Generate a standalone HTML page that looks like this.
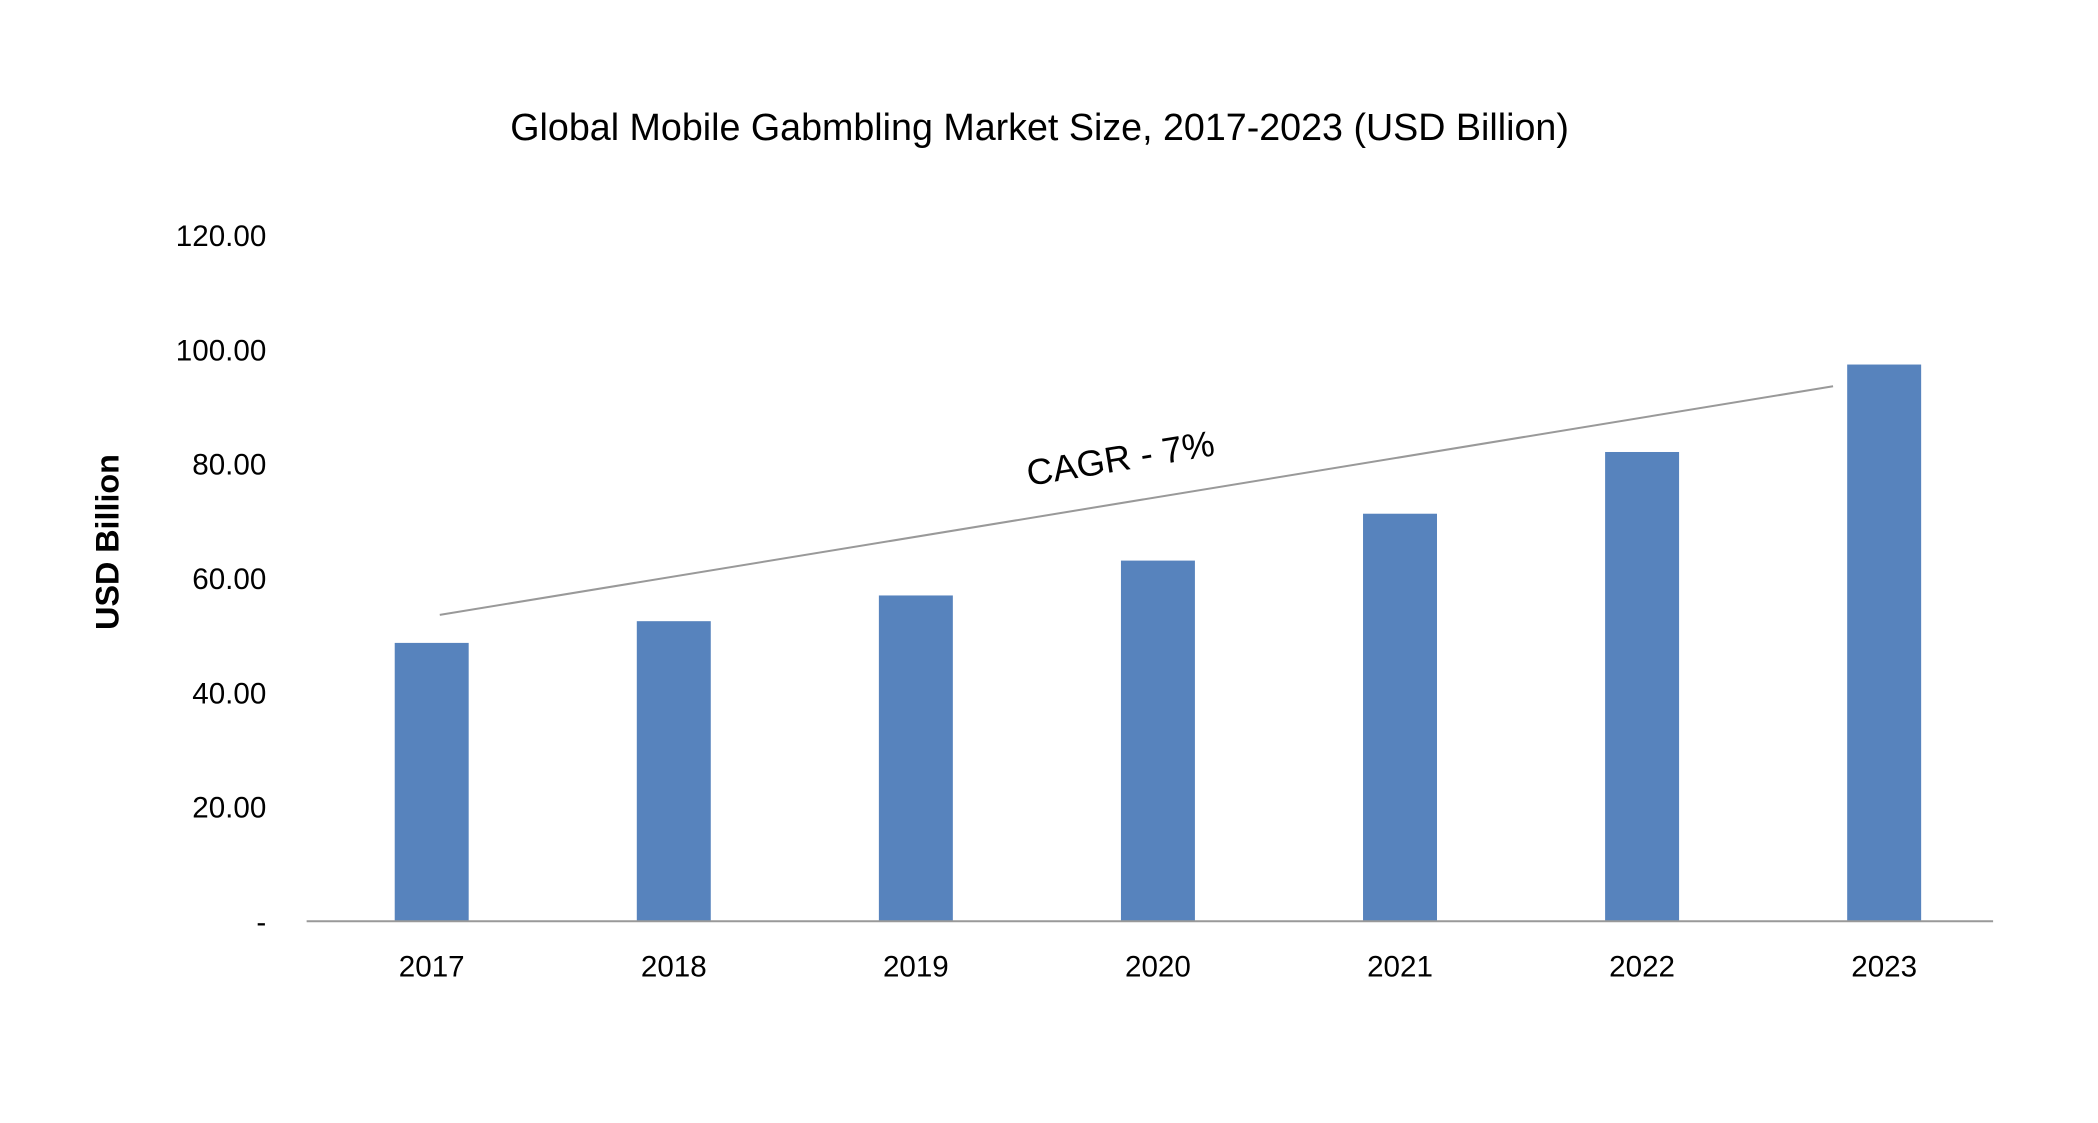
<!DOCTYPE html>
<html><head><meta charset="utf-8"><style>
html,body{margin:0;padding:0;background:#fff;}
svg{display:block;font-family:"Liberation Sans",sans-serif;}
</style></head><body>
<svg id="chart" width="2098" height="1123" viewBox="0 0 1560 835" preserveAspectRatio="none" xmlns="http://www.w3.org/2000/svg">
<rect width="1560" height="835" fill="#fff"/>
<text x="773" y="104" text-anchor="middle" font-size="28" fill="#000">Global Mobile Gabmbling Market Size, 2017-2023 (USD Billion)</text>
<text transform="translate(88,403) rotate(-90)" text-anchor="middle" font-size="24" font-weight="bold" fill="#000">USD Billion</text>
<g id="yticks"></g><g id="bars"></g><g id="xticks"></g>
<line x1="228" y1="685" x2="1482" y2="685" stroke="#999" stroke-width="1.5"/>
<g id="trend"></g>
</svg>
<script>
const categories=["2017","2018","2019","2020","2021","2022","2023"];
const values=[48.7,52.5,57.0,63.1,71.3,82.1,97.4];
const yTicks=[0,20,40,60,80,100,120];
const yTickLabels=["-","20.00","40.00","60.00","80.00","100.00","120.00"];
const trendValues=[53.6,93.6];
const cagrLabel="CAGR - 7%";
const NS="http://www.w3.org/2000/svg";
const y0=685,pxPer=4.25;
function yS(v){return y0-v*pxPer;}
function xS(i){return 321+i*180;}
function mk(t,a,p){const e=document.createElementNS(NS,t);for(const k in a)e.setAttribute(k,a[k]);p.appendChild(e);return e;}
const yt=document.getElementById('yticks');
yTicks.forEach((v,i)=>{const t=mk('text',{x:198,y:yS(v)+8,'text-anchor':'end','font-size':'22',fill:'#000'},yt);


t.textContent=yTickLabels[i];});
const bg=document.getElementById('bars'),xt=document.getElementById('xticks');
categories.forEach((c,i)=>{const b=mk('rect',{x:xS(i)-27.5,y:yS(values[i]),width:55,height:values[i]*pxPer,fill:'#5783bd'},bg);


const t=mk('text',{x:xS(i),y:726,'text-anchor':'middle','font-size':'22',fill:'#000'},xt);


t.textContent=c;});
const tg=document.getElementById('trend');
const l=mk('line',{x1:xS(0)+6,y1:yS(trendValues[0]),x2:xS(6)-38,y2:yS(trendValues[1]),stroke:'#999','stroke-width':'1.5'},tg);


const ct=mk('text',{x:833,y:350,'text-anchor':'middle','font-size':'27',fill:'#000',transform:'rotate(-9.3 833 340)'},tg);


ct.textContent=cagrLabel;
</script>
</body></html>
